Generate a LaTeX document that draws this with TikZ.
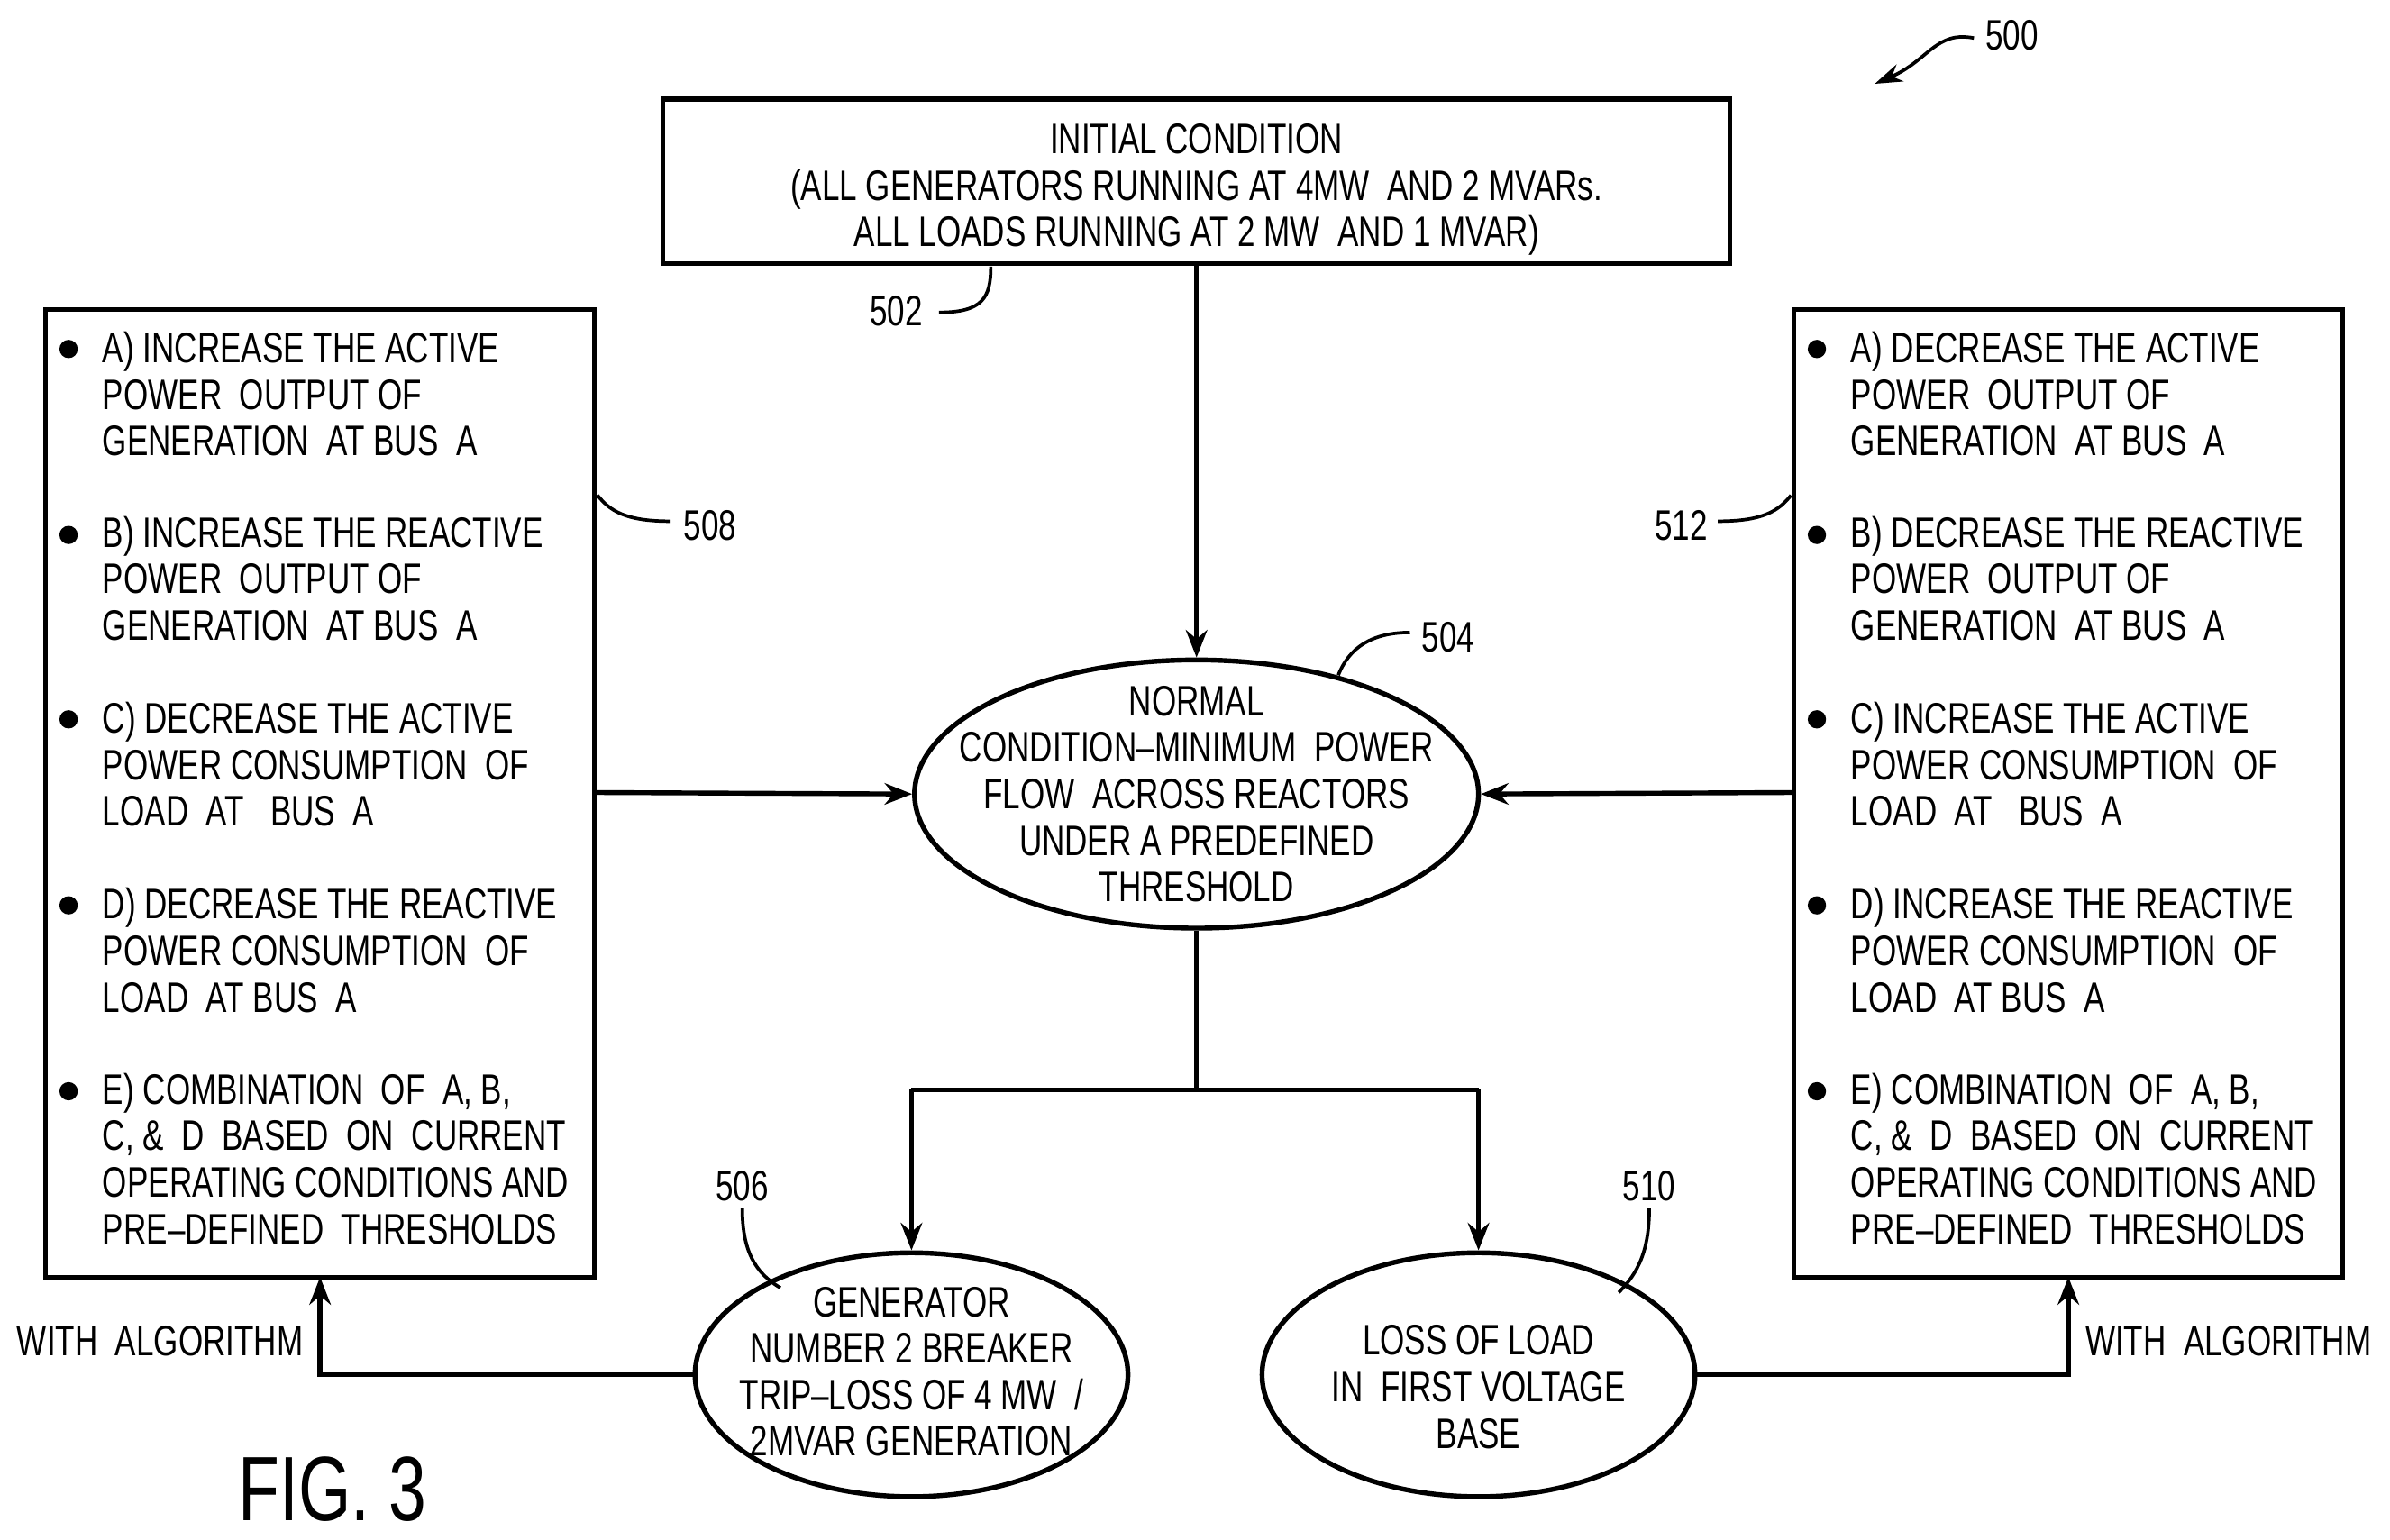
\documentclass[tikz,border=0pt]{standalone}
\usepackage{fontspec}
\setmainfont{Liberation Sans}[FakeStretch=0.74]
\usetikzlibrary{shapes.geometric,arrows.meta}
\begin{document}
\begin{tikzpicture}[x=0.5pt,y=-0.5pt,
  every node/.style={font=\fontsize{14}{15.25}\selectfont,inner sep=0pt},
  ln/.style={line width=1.6pt},
  ar/.style={ln,-{Stealth[length=9pt,width=7pt]}},
  lead/.style={line width=1.1pt},
  item/.style={anchor=base west,align=left},
  blt/.style={circle,fill=black,minimum size=6pt,inner sep=0pt}]
\useasboundingbox (0,0) rectangle (1568,1010);
% top box
\draw[ln] (435,65) rectangle (1135,173);
\node[align=center,anchor=base] (top) at (785,162) {INITIAL CONDITION\\(ALL GENERATORS RUNNING AT 4MW \ AND 2 MVARs.\\ALL LOADS RUNNING AT 2 MW \ AND 1 MVAR)};
\coordinate (topb) at (785,173);
% ellipses
\node[draw,ln,ellipse,minimum width=185pt,minimum height=88pt] (e504) at (785,521) {};
\node[align=center] at (785,521) {NORMAL\\CONDITION--MINIMUM \ POWER\\FLOW \ ACROSS REACTORS\\UNDER A PREDEFINED\\THRESHOLD};
\node[draw,ln,ellipse,minimum width=142pt,minimum height=80pt] (e506) at (598,902) {};
\node[align=center] at (598,900) {GENERATOR\\NUMBER 2 BREAKER\\TRIP--LOSS OF 4 MW \ /\\2MVAR GENERATION};
\node[draw,ln,ellipse,minimum width=142pt,minimum height=80pt] (e510) at (970,902) {};
\node[align=center] at (970,910) {LOSS OF LOAD\\IN \ FIRST VOLTAGE\\BASE};
% side boxes
\draw[ln] (30,203) rectangle (390,838);
\draw[ln] (1177,203) rectangle (1537,838);
\foreach \bx/\a/\b/\c/\d in {0/INCREASE/INCREASE/DECREASE/DECREASE,1147/DECREASE/DECREASE/INCREASE/INCREASE}{
 \begin{scope}[xshift=\bx*0.5pt]
 \foreach \yy in {229,351,472,594,716} \node[blt] at (45,\yy) {};
 \node[item] at (67,299) {A) \a\ THE ACTIVE\\POWER \ OUTPUT OF\\GENERATION \ AT BUS \ A};
 \node[item] at (67,420) {B) \b\ THE REACTIVE\\POWER \ OUTPUT OF\\GENERATION \ AT BUS \ A};
 \node[item] at (67,542) {C) \c\ THE ACTIVE\\POWER CONSUMPTION \ OF\\LOAD \ AT \ \ BUS \ A};
 \node[item] at (67,664) {D) \d\ THE REACTIVE\\POWER CONSUMPTION \ OF\\LOAD \ AT BUS \ A};
 \node[item] at (67,816) {E) COMBINATION \ OF \ A, B,\\C, \& \ D \ BASED \ ON \ CURRENT\\OPERATING CONDITIONS AND\\PRE--DEFINED \ THRESHOLDS};
 \end{scope}}
\coordinate (lb) at (390,520); \coordinate (rb) at (1177,520);
\coordinate (lbb) at (210,838); \coordinate (rbb) at (1357,838);
% connectors
\draw[ar] (topb) -- (e504.north);
\draw[ar] (lb) -- (e504.west);
\draw[ar] (rb) -- (e504.east);
\draw[ln] (e504.south) -- (785,715);
\draw[ar] (598,715) -- (e506.north);
\draw[ar] (970,715) -- (e510.north);
\draw[ln] (598,715) -- (970,715);
\draw[ar] (e506.west) -- (e506.west -| lbb) -- (lbb);
\draw[ar] (e510.east) -- (e510.east -| rbb) -- (rbb);
\node at (105,880) {WITH \ ALGORITHM};
\node at (1462,880) {WITH \ ALGORITHM};
% labels
\node at (588,204) {502}; \draw[lead] (616,205) .. controls (645,205) and (650,195) .. (650,175);
\node at (466,345) {508}; \draw[lead] (440,342) .. controls (410,342) and (400,335) .. (392,325);
\node at (1103,345) {512}; \draw[lead] (1127,342) .. controls (1157,342) and (1167,335) .. (1175,325);
\node at (950,418) {504}; \draw[lead] (925,415) .. controls (900,415) and (885,425) .. (878,443);
\node at (487,778) {506}; \draw[lead] (487,793) .. controls (487,820) and (495,835) .. (512,845);
\node at (1082,778) {510}; \draw[lead] (1082,793) .. controls (1082,820) and (1075,835) .. (1062,848);
\node at (1320,23) {500};
\draw[lead,-{Stealth[length=9pt,width=6pt]}] (1295,25) .. controls (1270,20) and (1265,40) .. (1230,55);
\node[font=\fontsize{30}{30}\selectfont] at (218,977) {FIG. 3};
\end{tikzpicture}
\end{document}
